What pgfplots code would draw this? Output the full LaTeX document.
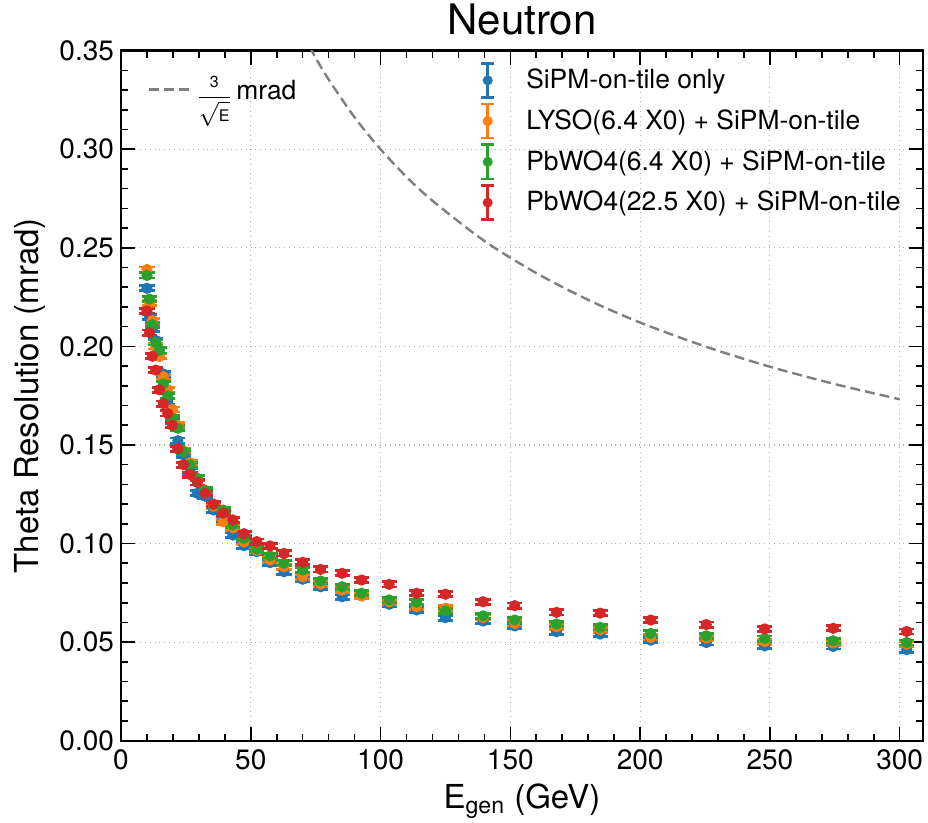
\documentclass[border=0pt]{standalone}
\usepackage{fontspec}
\setmainfont{TeX Gyre Heros}
\usepackage{amsmath}
\usepackage{pgfplots}
\usepackage{pgfplotstable}
\pgfplotsset{compat=1.18}

\definecolor{tabblue}{HTML}{1F77B4}
\definecolor{taborange}{HTML}{FF7F0E}
\definecolor{tabgreen}{HTML}{2CA02C}
\definecolor{tabred}{HTML}{D62728}
\definecolor{refgray}{HTML}{7F7F7F}

% E [GeV], theta resolution [mrad] for each setup
\pgfplotstableread{
E     sipm    lyso    pbw6    pbw22
10.0  0.2295  0.239   0.236   0.218
11.0  0.215   0.222   0.224   0.207
12.1  0.209   0.213   0.211   0.195
13.4  0.203   0.200   0.202   0.188
14.8  0.195   0.195   0.198   0.178
16.3  0.186   0.1846  0.181   0.171
18.0  0.172   0.178   0.175   0.166
19.8  0.162   0.168   0.1635  0.160
21.9  0.1522  0.160   0.1585  0.148
24.1  0.145   0.147   0.1466  0.140
26.6  0.1365  0.141   0.140   0.135
29.4  0.1255  0.133   0.1331  0.131
32.4  0.124   0.127   0.127   0.1255
35.7  0.117   0.119   0.1196  0.120
39.4  0.112   0.1111  0.117   0.1154
43.1  0.1043  0.108   0.1094  0.112
47.4  0.0989  0.1009  0.1027  0.105
52.3  0.0959  0.0965  0.0972  0.101
57.4  0.0903  0.0917  0.0937  0.0988
62.8  0.0857  0.0883  0.0900  0.0950
70.0  0.0819  0.0832  0.0866  0.0905
76.9  0.0781  0.0795  0.0810  0.0869
85.2  0.0730  0.0764  0.0781  0.0849
92.7  0.0735  0.0734  0.0748  0.0815
103.3 0.0692  0.0705  0.0714  0.0793
113.9 0.0663  0.0680  0.0702  0.0748
125.0 0.0624  0.0672  0.0659  0.0743
139.5 0.0607  0.0625  0.0633  0.0705
151.7 0.0582  0.0595  0.0612  0.0685
167.8 0.0553  0.0578  0.0592  0.0651
184.6 0.0541  0.0563  0.0575  0.0647
204.1 0.0510  0.0524  0.0544  0.0612
225.5 0.0498  0.0521  0.0532  0.0589
248.0 0.0481  0.0503  0.0518  0.0567
274.4 0.0478  0.0496  0.0507  0.0570
302.7 0.0462  0.0490  0.0498  0.0554
}\restable

% 3/sqrt(E) reference curve
\pgfplotstableread{
E    r
70   0.3586
75   0.3464
80   0.3354
90   0.3162
100  0.3000
110  0.2860
120  0.2739
140  0.2535
160  0.2372
180  0.2236
200  0.2121
225  0.2000
250  0.1897
275  0.1809
300  0.1732
}\reftable

\pgfplotsset{
  errpt/.style={
    only marks, mark=*, mark size=2.6pt, color=#1,
    mark options={solid, fill=#1, draw=#1},
    legend image code/.code={
      \draw[line width=1.3pt] (0cm,-0.3cm) -- (0cm,0.3cm);
      \draw[line width=1.3pt] (-0.11cm,0.3cm) -- (0.11cm,0.3cm);
      \draw[line width=1.3pt] (-0.11cm,-0.3cm) -- (0.11cm,-0.3cm);
      \fill (0cm,0cm) circle (2.3pt);
      \path (0.6cm,0cm);
    },
    error bars/y dir=both,
    error bars/y fixed=0.0013,
    error bars/error bar style={line width=1.4pt, #1},
    error bars/error mark options={rotate=90, mark size=3.8pt, line width=1.4pt, #1},
  },
  common/.style={
    scale only axis, width=401pt, height=345pt,
    xmin=0, xmax=309, ymin=0, ymax=0.35,
  },
}

\begin{document}
\begin{tikzpicture}
\begin{axis}[
  common,
  name=main,
  xtick={0,50,100,150,200,250,300},
  ytick={0,0.05,0.10,0.15,0.20,0.25,0.30,0.35},
  minor x tick num=4, minor y tick num=4,
  tick align=inside,
  major tick length=7pt, minor tick length=3.5pt,
  every tick/.style={black, line width=0.8pt},
  axis line style={line width=1.2pt},
  grid=major,
  major grid style={dotted, black!30, line width=0.6pt},
  /pgf/number format/assume math mode=true,
  yticklabel style={/pgf/number format/fixed, /pgf/number format/precision=2,
    /pgf/number format/fixed zerofill},
  tick label style={font=\fontsize{14}{16}\selectfont},
  xticklabel style={yshift=-1pt},
  label style={font=\fontsize{16.5}{19}\selectfont},
  xlabel={E\textsubscript{gen} (GeV)},
  ylabel={Theta Resolution (mrad)},
  title={Neutron},
  title style={font=\fontsize{21}{24}\selectfont, yshift=-2pt},
  legend cell align=left,
  legend style={draw=none, fill=none, at={(0.985,0.99)}, anchor=north east,
    font=\fontsize{13.2}{15}\selectfont, row sep=2pt},
]
\addplot[errpt=tabblue] table[x=E, y=sipm] {\restable};
\addlegendentry{SiPM-on-tile only}
\addplot[errpt=taborange] table[x=E, y=lyso] {\restable};
\addlegendentry{LYSO(6.4 X0) + SiPM-on-tile}
\addplot[errpt=tabgreen] table[x=E, y=pbw6] {\restable};
\addlegendentry{PbWO4(6.4 X0) + SiPM-on-tile}
\addplot[errpt=tabred] table[x=E, y=pbw22] {\restable};
\addlegendentry{PbWO4(22.5 X0) + SiPM-on-tile}
\end{axis}

\begin{axis}[
  common,
  hide axis,
  legend cell align=left,
  legend style={draw=none, fill=none, at={(0.025,0.975)}, anchor=north west,
    font=\fontsize{13.2}{15}\selectfont},
  legend image code/.code={
    \draw[#1] (0cm,0cm) -- (0.75cm,0cm);
  },
]
\addplot[refgray, line width=1.2pt, dash pattern=on 5pt off 2.5pt, smooth]
  table[x=E, y=r] {\reftable};
\addlegendentry{\raisebox{-2pt}{$\displaystyle\frac{\text{\footnotesize 3}}{\sqrt{\text{\footnotesize E}}}$}\,mrad}
\end{axis}

\pgfresetboundingbox
\path ([xshift=-60.5pt,yshift=-40.65pt]main.south west)
  rectangle ([xshift=2.5pt,yshift=25.35pt]main.north east);
\end{tikzpicture}
\end{document}
